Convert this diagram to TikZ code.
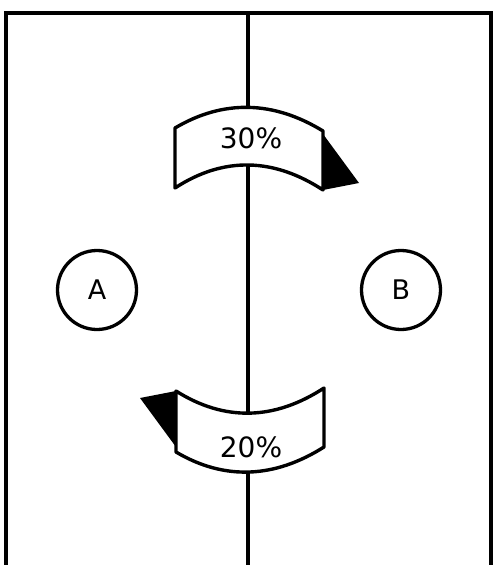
\documentclass[tikz,border=0pt]{standalone}
\usepackage{fontspec}
\setmainfont{DejaVu Sans}
\usepackage{tikz}
\usetikzlibrary{arrows.meta,positioning,calc}

\begin{document}
\begin{tikzpicture}[
    x=1pt, y=-1pt,
    wall/.style={draw=black, line width=3.6pt},
    zone/.style={circle, draw=black, line width=3.3pt, minimum size=79pt, inner sep=0pt, font=\fontsize{27}{30}\selectfont},
    band/.style={draw=black, fill=white, line width=3.4pt, line join=round},
    head/.style={fill=black},
    pct/.style={inner sep=0pt, font=\fontsize{28}{30}\selectfont}
]
    \useasboundingbox (0,0) rectangle (495,565);

    % frame and split
    \draw [wall] (6,565) -- (6,13) -- (491,13) -- (491,565);
    \draw [wall] (248,13) -- (248,565);

    \node [zone] (a) at (97,290) {A};
    \node [zone] (b) at (401,290) {B};

    % upper flow, A to B
    \draw [band] (175,128) .. controls (224,99) and (274,101) .. (323,131) -- (323,190) .. controls (274,158) and (224,156) .. (175,188) -- cycle;
    \fill [head] (323,134) -- (359,183) -- (323,190) -- cycle;
    \node [pct] (ab) at (251,138) {30\%};

    % lower flow, B to A
    \draw [band] (176,391) .. controls (225,422) and (275,420) .. (324,388) -- (324,447) .. controls (275,478) and (225,481) .. (176,452) -- cycle;
    \fill [head] (176,391) -- (140,398) -- (176,447) -- cycle;
    \node [pct] (ba) at (251,447) {20\%};
\end{tikzpicture}
\end{document}
